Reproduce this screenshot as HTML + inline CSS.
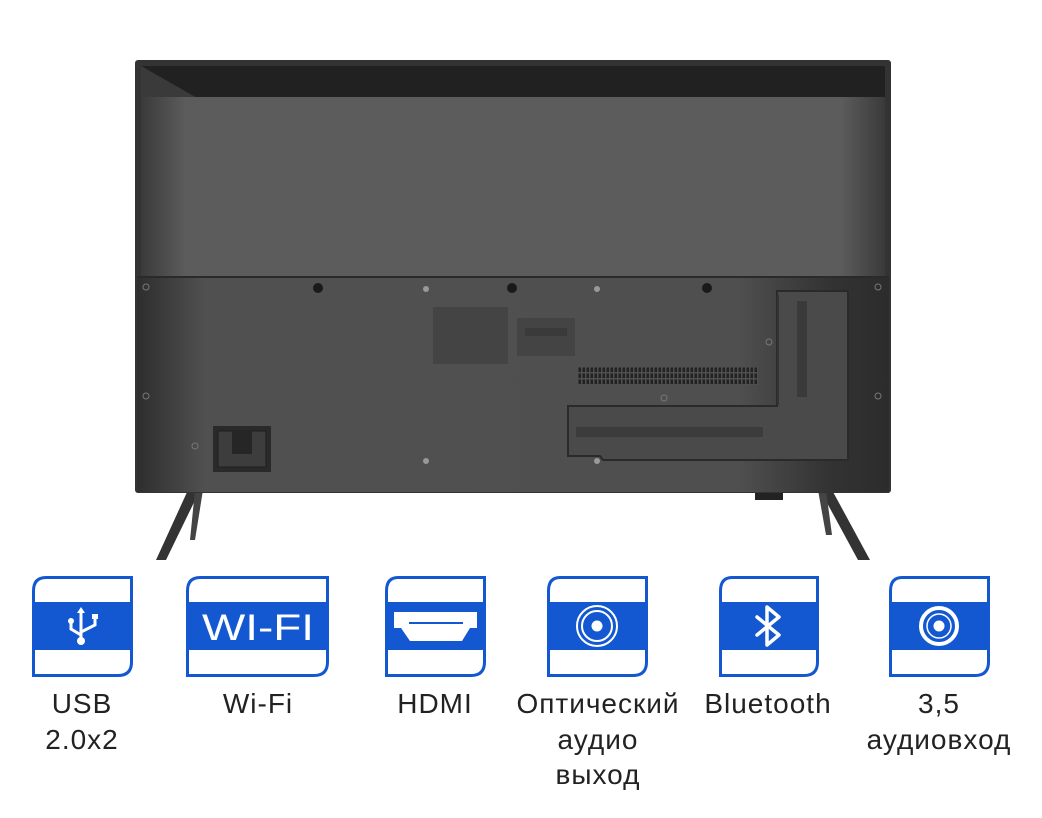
<!DOCTYPE html>
<html><head><meta charset="utf-8"><style>
html,body{margin:0;padding:0;background:#fff;width:1042px;height:818px;overflow:hidden}
.lbl{position:absolute;font-family:"Liberation Sans","DejaVu Sans",sans-serif;font-size:28px;letter-spacing:1px;color:#222;text-align:center;line-height:35.5px;width:220px}
</style></head><body>
<svg width="1042" height="818" style="position:absolute;left:0;top:0">
<defs>
<linearGradient id="up" x1="0" x2="1" y1="0" y2="0">
<stop offset="0" stop-color="#3a3a3a"/><stop offset="0.06" stop-color="#5c5c5c"/><stop offset="0.94" stop-color="#5c5c5c"/><stop offset="1" stop-color="#3a3a3a"/></linearGradient>
<linearGradient id="lo" x1="0" x2="1" y1="0" y2="0">
<stop offset="0" stop-color="#2e2e2e"/><stop offset="0.09" stop-color="#505050"/><stop offset="0.8" stop-color="#4f4f4f"/><stop offset="0.92" stop-color="#333"/><stop offset="1" stop-color="#2c2c2c"/></linearGradient>
<pattern id="vent" x="578" y="367" width="4" height="6" patternUnits="userSpaceOnUse">
<rect width="4" height="6" fill="#4f4f4f"/><rect x="0.5" y="0.5" width="2.5" height="4.5" fill="#222"/></pattern>
</defs>
<polygon points="188,490 200,490 166,560 156,560" fill="#333"/>
<polygon points="195,490 203,490 195,540 190,540" fill="#444"/>
<polygon points="820,490 832,490 870,560 858,560" fill="#333"/>
<polygon points="818,490 826,490 832,535 826,535" fill="#444"/>
<rect x="755" y="488" width="28" height="12" fill="#222"/>
<rect x="135" y="60" width="756" height="433" rx="3" fill="#333"/>
<rect x="141" y="66" width="744" height="212" fill="url(#up)"/>
<polygon points="141,66 885,66 885,97 195,97" fill="#212121"/>
<polygon points="141,66 195,97 141,97" fill="#3a3a3a"/>
<rect x="137" y="277" width="752" height="215" fill="url(#lo)"/>
<line x1="137" y1="277" x2="889" y2="277" stroke="#2a2a2a" stroke-width="2"/>
<g fill="#1a1a1a"><circle cx="318" cy="288" r="5"/><circle cx="512" cy="288" r="5"/><circle cx="707" cy="288" r="5"/></g>
<g fill="#999"><circle cx="426" cy="289" r="3"/><circle cx="597" cy="289" r="3"/><circle cx="426" cy="461" r="3"/><circle cx="597" cy="461" r="3"/></g>
<g fill="none" stroke="#777"><circle cx="146" cy="287" r="3"/><circle cx="146" cy="396" r="3"/><circle cx="878" cy="287" r="3"/><circle cx="878" cy="396" r="3"/><circle cx="664" cy="398" r="3"/><circle cx="769" cy="342" r="3"/><circle cx="824" cy="446" r="3"/><circle cx="195" cy="446" r="3"/></g>
<rect x="433" y="307" width="75" height="57" fill="#444"/>
<rect x="517" y="318" width="58" height="38" fill="#444"/>
<rect x="525" y="328" width="42" height="8" fill="#3a3a3a"/>
<rect x="578" y="367" width="180" height="18" fill="url(#vent)"/>
<path d="M777,291 L848,291 L848,460 L603,460 L600,456 L568,456 L568,406 L777,406 Z" fill="#4a4a4a" stroke="#2a2a2a" stroke-width="2"/>
<rect x="797" y="301" width="10" height="96" fill="#3a3a3a"/>
<rect x="576" y="427" width="187" height="10" fill="#3c3c3c"/>
<line x1="778" y1="295" x2="778" y2="405" stroke="#333" stroke-width="2"/>
<rect x="213" y="426" width="58" height="46" fill="#2a2a2a"/>
<rect x="218" y="431" width="48" height="36" fill="#3d3d3d" stroke="#1f1f1f"/>
<rect x="232" y="430" width="20" height="24" fill="#262626"/>
</svg>

<svg width="1042" height="818" style="position:absolute;left:0;top:0">
<g>
<path d="M46,577.5 H131.5 V662 Q131.5,675.5 118,675.5 H33.5 V591 Q33.5,577.5 46,577.5Z" fill="#fff" stroke="#1358d1" stroke-width="3"/>
<rect x="33" y="602" width="100" height="48" fill="#1358d1"/>
<g stroke="#fff" stroke-width="3" fill="none" stroke-linecap="round">
<line x1="81" y1="610" x2="81" y2="640"/><path d="M71,622 V629 L81,635"/><path d="M95,617 V625 L81,632"/></g>
<circle cx="81" cy="641" r="4" fill="#fff"/><circle cx="71" cy="621" r="3" fill="#fff"/><rect x="92" y="614" width="6" height="5" fill="#fff"/>
<polygon points="81,607 77,613 85,613" fill="#fff"/>
</g>
<g>
<path d="M200,577.5 H327.5 V662 Q327.5,675.5 314,675.5 H187.5 V591 Q187.5,577.5 200,577.5Z" fill="#fff" stroke="#1358d1" stroke-width="3"/>
<rect x="187" y="602" width="142" height="48" fill="#1358d1"/>
<text x="202" y="640" font-family="Liberation Sans,sans-serif" font-size="37" fill="#fff" textLength="112" lengthAdjust="spacingAndGlyphs">WI-FI</text>
</g>
<g>
<path d="M398,577.5 H484.5 V662 Q484.5,675.5 471,675.5 H386.5 V591 Q386.5,577.5 398,577.5Z" fill="#fff" stroke="#1358d1" stroke-width="3"/>
<rect x="386" y="602" width="100" height="48" fill="#1358d1"/>
<polygon points="394,612 477,612 477,628 470,628 462,641 410,641 401,628 394,628" fill="#fff"/>
<line x1="409" y1="623" x2="463" y2="623" stroke="#1358d1" stroke-width="2"/>
</g>
<g>
<path d="M560,577.5 H646.5 V662 Q646.5,675.5 633,675.5 H548.5 V591 Q548.5,577.5 560,577.5Z" fill="#fff" stroke="#1358d1" stroke-width="3"/>
<rect x="548" y="602" width="100" height="48" fill="#1358d1"/>
<circle cx="597" cy="626" r="20" fill="none" stroke="#fff" stroke-width="2"/>
<circle cx="597" cy="626" r="15" fill="none" stroke="#fff" stroke-width="2"/>
<circle cx="597" cy="626" r="5.5" fill="#fff"/>
</g>
<g>
<path d="M732,577.5 H817.5 V662 Q817.5,675.5 804,675.5 H720.5 V591 Q720.5,577.5 732,577.5Z" fill="#fff" stroke="#1358d1" stroke-width="3"/>
<rect x="720" y="602" width="99" height="48" fill="#1358d1"/>
<path d="M757,617 L779,635 L767,645 V607 L779,617 L757,635" fill="none" stroke="#fff" stroke-width="3.5" stroke-linejoin="round" stroke-linecap="round"/>
</g>
<g>
<path d="M902,577.5 H988.5 V662 Q988.5,675.5 975,675.5 H890.5 V591 Q890.5,577.5 902,577.5Z" fill="#fff" stroke="#1358d1" stroke-width="3"/>
<rect x="890" y="602" width="100" height="48" fill="#1358d1"/>
<circle cx="939" cy="626" r="18" fill="none" stroke="#fff" stroke-width="4"/>
<circle cx="939" cy="626" r="12" fill="none" stroke="#fff" stroke-width="1.5"/>
<circle cx="939" cy="626" r="5.5" fill="#fff"/>
</g>
</svg>

<div class="lbl" style="left:-28px;top:686px">USB<br>2.0x2</div>
<div class="lbl" style="left:148px;top:686px">Wi-Fi</div>
<div class="lbl" style="left:325px;top:686px">HDMI</div>
<div class="lbl" style="left:488px;top:686px">Оптический<br>аудио<br>выход</div>
<div class="lbl" style="left:658px;top:686px">Bluetooth</div>
<div class="lbl" style="left:829px;top:686px">3,5<br>аудиовход</div>
</body></html>
